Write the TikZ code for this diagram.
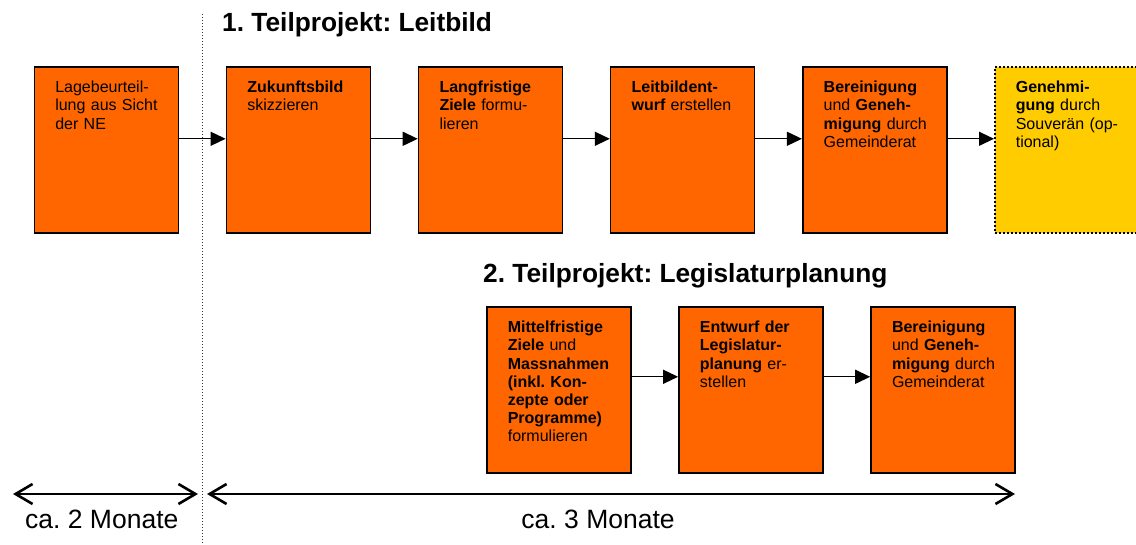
\documentclass[tikz,border=0pt]{standalone}
\usepackage{fontspec}
\setmainfont{Liberation Sans}
\usepackage{tikz}
\usetikzlibrary{arrows.meta,positioning}
\definecolor{stepor}{HTML}{FF6600}
\definecolor{stepyel}{HTML}{FFCC00}

\begin{document}
\frenchspacing
\begin{tikzpicture}[x=1pt, y=-1pt,
  font=\fontsize{16pt}{18.2pt}\selectfont,
  stepbox/.style={draw, line width=1.6pt, fill=stepor, inner xsep=21pt, inner ysep=0pt, text width=102pt, align=left, text height=26pt, text depth=140pt},
  optbox/.style={stepbox, fill=stepyel, dash pattern=on 2pt off 2pt},
  flow/.style={-{Triangle[length=15pt, width=14pt]}, line width=1.3pt},
  span/.style={{Straight Barb[length=17pt, width=20pt]}-{Straight Barb[length=17pt, width=20pt]}, line width=2.6pt},
  title/.style={font=\fontsize{26.3pt}{30pt}\selectfont\bfseries, anchor=base west, inner sep=0pt},
  dur/.style={font=\fontsize{26.5pt}{30pt}\selectfont, inner sep=0pt}]
\useasboundingbox (0,0) rectangle (1136,545);
\coordinate (cuttop) at (202,14);
\coordinate (cutbot) at (202,545);
\draw[line width=1pt, dotted, black!80] (cuttop) -- (cutbot);
\node[title] (tp1) at (222,32) {1. Teilprojekt: Leitbild};
\node[title] (tp2) at (483,283) {2. Teilprojekt: Legislaturplanung};
\node[stepbox, anchor=north west] (lage) at (33.5,66) {Lagebeurteil-\\\mbox{lung aus Sicht}\\der NE};
\node[stepbox, right=46.5pt of lage] (zuk) {\textbf{Zukunftsbild}\\skizzieren};
\node[stepbox, right=46.5pt of zuk] (lfz) {\textbf{Langfristige}\\\textbf{Ziele} formu-\\lieren};
\node[stepbox, right=46.5pt of lfz] (lbe) {\textbf{Leitbildent-}\\\textbf{wurf} erstellen};
\node[stepbox, right=46.5pt of lbe] (ber) {\textbf{Bereinigung}\\\mbox{und \textbf{Geneh-}}\\\mbox{\textbf{migung} durch}\\Gemeinderat};
\node[optbox, right=46.5pt of ber] (souv) {\textbf{Genehmi-}\\\mbox{\textbf{gung} durch}\\\mbox{Souverän (op-}\\tional)};
\draw[flow] ([yshift=11pt]lage.east) -- ([yshift=11pt]zuk.west);
\draw[flow] ([yshift=11pt]zuk.east) -- ([yshift=11pt]lfz.west);
\draw[flow] ([yshift=11pt]lfz.east) -- ([yshift=11pt]lbe.west);
\draw[flow] ([yshift=11pt]lbe.east) -- ([yshift=11pt]ber.west);
\draw[flow] ([yshift=11pt]ber.east) -- ([yshift=11pt]souv.west);
\node[stepbox, anchor=north west] (mfz) at (486,306) {\textbf{Mittelfristige}\\\textbf{Ziele} und\\\textbf{Massnahmen}\\\mbox{\textbf{(inkl. Kon-}}\\\mbox{\textbf{zepte oder}}\\\textbf{Programme)}\\formulieren};
\node[stepbox, right=46.5pt of mfz] (entw) {\textbf{Entwurf der}\\\textbf{Legislatur-}\\\mbox{\textbf{planung} er-}\\stellen};
\node[stepbox, right=46.5pt of entw] (gem) {\textbf{Bereinigung}\\\mbox{und \textbf{Geneh-}}\\\mbox{\textbf{migung} durch}\\Gemeinderat};
\draw[flow] ([yshift=13pt]mfz.east) -- ([yshift=13pt]entw.west);
\draw[flow] ([yshift=13pt]entw.east) -- ([yshift=13pt]gem.west);
\coordinate (m0) at (13,494);
\coordinate (m1) at (198,494);
\coordinate (m2) at (207,494);
\coordinate (m3) at (1015,494);
\draw[span] (m0) -- node[dur, pos=0.48, below=15pt] (two) {ca. 2 Monate} (m1);
\draw[span] (m2) -- node[dur, pos=0.484, below=15pt] (three) {ca. 3 Monate} (m3);
\end{tikzpicture}
\end{document}
